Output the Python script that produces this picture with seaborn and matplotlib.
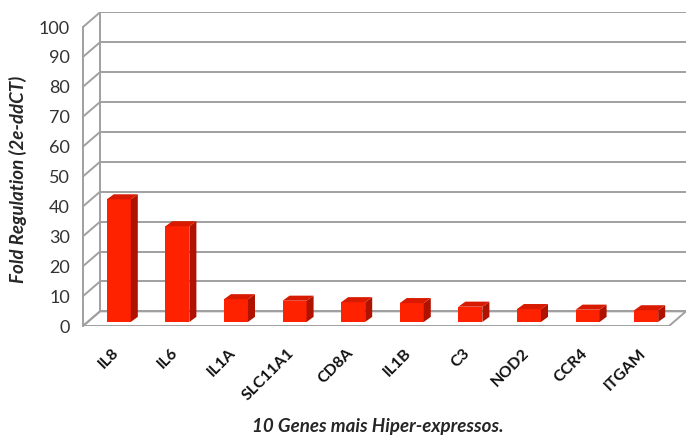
import numpy as np
import pandas as pd
import matplotlib
matplotlib.use('Agg')
import matplotlib.pyplot as plt
import matplotlib.transforms as mtransforms
from matplotlib.patches import Polygon
import seaborn as sns

genes = ['IL8', 'IL6', 'IL1A', 'SLC11A1', 'CD8A', 'IL1B', 'C3', 'NOD2', 'CCR4', 'ITGAM']
fold = [41.0, 32.0, 7.6, 7.1, 6.6, 6.3, 5.1, 4.3, 4.1, 3.9]
yticks = list(range(0, 101, 10))

df = pd.DataFrame({'gene': genes, 'fold': fold})

sns.set_style('white')
plt.rcParams['font.family'] = ['Lato', 'DejaVu Sans']

front_c = '#ff2200'
side_c = '#b01200'
top_c = '#d81a00'
grid_c = '#a0a0a0'

# depth of the "3d" box (data units)
dx, dy = 0.29, 4.9
# bar placed a bit inside the box, and its own depth
ox, oy = 0.11, 1.35
bdx, bdy = 0.12, 1.7

# front plane: 0 at pixel 326, 2.99 px per unit
px_unit = 2.99
ax_h = (100 + dy) * px_unit
fig = plt.figure(figsize=(6.86, 4.36), dpi=100)
ax = fig.add_axes([83 / 686, 110 / 436, 603 / 686, ax_h / 436])

sns.barplot(data=df, x='gene', y='fold', color=front_c, saturation=1,
            width=0.41, ax=ax, zorder=4)
bars = list(ax.patches)

n = len(genes)
x0, x1 = -0.5, n - 0.5

# floor
ax.add_patch(Polygon([(x0, 0), (x1, 0), (x1 + dx, dy), (x0 + dx, dy)],
                     closed=True, facecolor='white', edgecolor=grid_c, lw=1.4, zorder=1))

# back wall grid + left wall lines
for v in yticks:
    ax.plot([x0 + dx, x1 + dx], [v + dy, v + dy], color=grid_c, lw=1.4, zorder=1)
    ax.plot([x0, x0 + dx], [v, v + dy], color=grid_c, lw=1.4, zorder=1)
ax.plot([x0 + dx, x0 + dx], [dy, 100 + dy], color=grid_c, lw=1.4, zorder=1)

# 3d faces for bars
for p in bars:
    h = p.get_height()
    p.set_x(p.get_x() + ox)
    p.set_y(oy)
    p.set_edgecolor('none')
    xl = p.get_x()
    xr = xl + p.get_width()
    yt = oy + h
    ax.add_patch(Polygon([(xr, oy), (xr + bdx, oy + bdy), (xr + bdx, yt + bdy), (xr, yt)],
                         closed=True, facecolor=side_c, edgecolor='none', zorder=4))
    ax.add_patch(Polygon([(xl, yt), (xr, yt), (xr + bdx, yt + bdy), (xl + bdx, yt + bdy)],
                         closed=True, facecolor=top_c, edgecolor='none', zorder=4))

ax.set_xlim(x0, x1 + dx)
ax.set_ylim(0, 100 + dy)

for s in ['top', 'right', 'bottom']:
    ax.spines[s].set_visible(False)
ax.spines['left'].set_color(grid_c)
ax.spines['left'].set_linewidth(1.4)
ax.spines['left'].set_bounds(0, 100)

ax.set_yticks(yticks)
ax.set_yticklabels([str(v) for v in yticks])
ax.tick_params(axis='y', length=5, color=grid_c, width=1.4, pad=4.5,
               labelsize=13, labelcolor='#333333')
ax.tick_params(axis='x', length=0, pad=6, labelsize=11.5)
ax.set_xticks(range(n))
ax.set_xticklabels(genes, rotation=45, ha='right', va='center',
                   rotation_mode='anchor', fontweight='bold', color='#111111')
shift = mtransforms.ScaledTranslation(3 / 72, -12 / 72, fig.dpi_scale_trans)
for lab in ax.get_xticklabels():
    lab.set_transform(lab.get_transform() + shift)

ax.set_xlabel('')
ax.set_ylabel('')
fig.text(378 / 686, 1 - 426 / 436, '10 Genes mais Hiper-expressos.',
         ha='center', va='center', fontsize=13.5, fontweight='bold', fontstyle='italic')
fig.text(18 / 686, 1 - 179 / 436, 'Fold Regulation (2e-ddCT)', rotation=90,
         ha='center', va='center', fontsize=13.5, fontweight='bold', fontstyle='italic')

fig.savefig('out.png', dpi=100)
